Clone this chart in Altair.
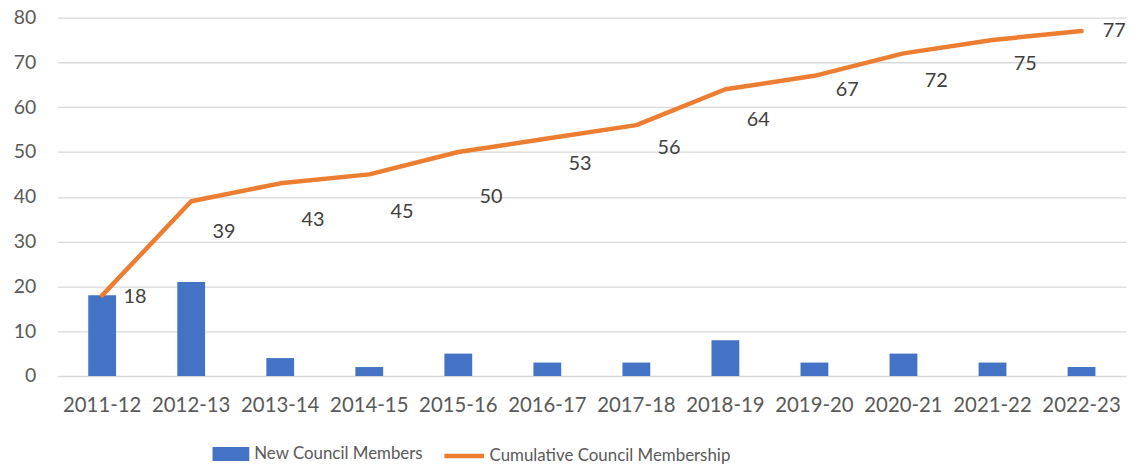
import altair as alt
import pandas as pd

years = ["2011-12", "2012-13", "2013-14", "2014-15", "2015-16", "2016-17",
         "2017-18", "2018-19", "2019-20", "2020-21", "2021-22", "2022-23"]
new_members = [18, 21, 4, 2, 5, 3, 3, 8, 3, 5, 3, 2]
cumulative = [18, 39, 43, 45, 50, 53, 56, 64, 67, 72, 75, 77]
# vertical anchor of each data label (in value units), as placed in the original
label_anchor = [17.7, 32.1, 34.8, 36.6, 39.9, 47.4, 50.9, 57.1, 63.8, 65.8, 69.6, 76.9]

df = pd.DataFrame({
    "year": years,
    "new": new_members,
    "cum": cumulative,
    "lab": label_anchor,
    "s1": ["New Council Members"] * len(years),
    "s2": ["Cumulative Council Membership"] * len(years),
})

FONT = "Lato"
AX = "#595959"

x = alt.X("year:N", sort=years, title=None,
          scale=alt.Scale(paddingInner=0, paddingOuter=0),
          axis=alt.Axis(labelAngle=0, labelFontSize=20.5, labelColor=AX, labelFont=FONT,
                        labelPadding=20, ticks=False, domain=False, grid=False))
yscale = alt.Scale(domain=[0, 80], nice=False)
yaxis = alt.Axis(values=[0, 10, 20, 30, 40, 50, 60, 70, 80], labelFontSize=19.5, labelColor=AX,
                 labelFont=FONT, labelPadding=22, ticks=False, domain=False,
                 gridColor="#d9d9d9", gridWidth=1.3)

bars = alt.Chart(df).mark_bar(size=28, color="#4472C4").encode(
    x=x,
    y=alt.Y("new:Q", scale=yscale, axis=yaxis, title=None),
    fill=alt.Fill("s1:N", scale=alt.Scale(range=["#4472C4"]),
                  legend=alt.Legend(title=None, orient="none", legendX=156, legendY=421,
                                    symbolType="M-1,-0.38H1V0.38H-1Z", symbolSize=1369,
                                    symbolStrokeWidth=0, labelFontSize=17, labelFont=FONT,
                                    labelColor=AX, labelOffset=5, labelLimit=500, padding=0)),
)

line = alt.Chart(df).mark_line(strokeWidth=4.5, strokeCap="round", strokeJoin="round").encode(
    x=x,
    y=alt.Y("cum:Q", scale=yscale),
    stroke=alt.Stroke("s2:N", scale=alt.Scale(range=["#ED7D31"]),
                      legend=alt.Legend(title=None, orient="none", legendX=387, legendY=419,
                                        symbolType="stroke", symbolSize=1600,
                                        symbolStrokeWidth=4.5, labelFontSize=17, labelFont=FONT,
                                        labelColor=AX, labelOffset=3, labelLimit=500, padding=0)),
)

labels = alt.Chart(df).mark_text(fontSize=20, font=FONT, color="#404040", dx=33).encode(
    x=x,
    y=alt.Y("lab:Q", scale=yscale),
    text=alt.Text("cum:Q"),
)

chart = alt.layer(bars, line, labels).properties(
    width=1076, height=361,
    autosize=alt.AutoSizeParams(type="none"),
    padding={"left": 50, "top": 8, "right": 6, "bottom": 88},
).configure_view(stroke=None).configure_legend(symbolOffset=0)

chart.save("out.html", embed_options={"renderer": "svg", "actions": False})
